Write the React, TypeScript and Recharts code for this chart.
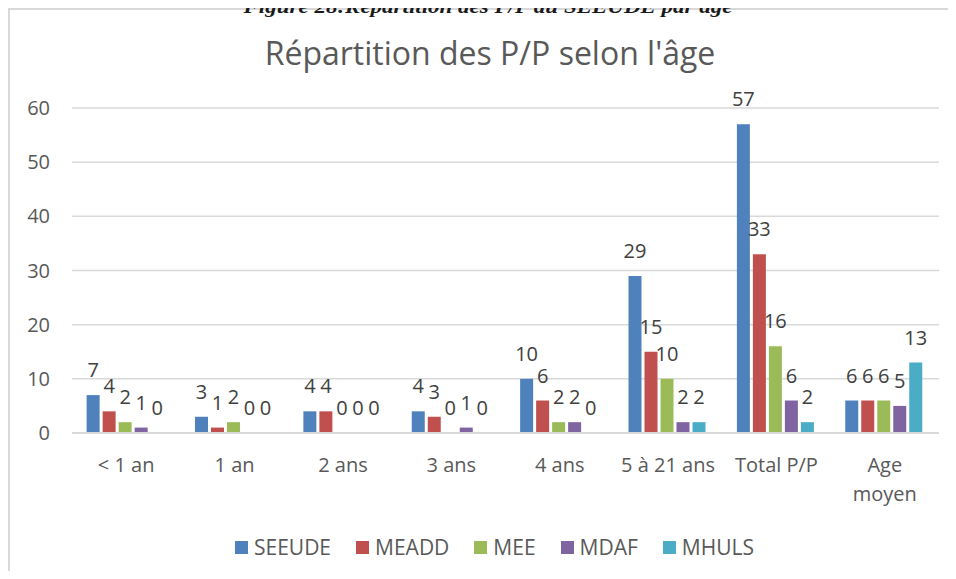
import React from 'react';
import { BarChart, Bar, XAxis, YAxis, CartesianGrid, Legend, LabelList } from 'recharts';

const categories = ['< 1 an', '1 an', '2 ans', '3 ans', '4 ans', '5 à 21 ans', 'Total P/P', 'Age\nmoyen'];
const seeude = [7, 3, 4, 4, 10, 29, 57, 6];
const meadd = [4, 1, 4, 3, 6, 15, 33, 6];
const mee = [2, 2, 0, 0, 2, 10, 16, 6];
const mdaf = [1, 0, 0, 1, 2, 2, 6, 5];
const mhuls = [0, 0, 0, 0, 0, 2, 2, 13];
const yTicks = [0, 10, 20, 30, 40, 50, 60];
const seriesNames = ['SEEUDE', 'MEADD', 'MEE', 'MDAF', 'MHULS'];
const seriesColors = ['#4F81BD', '#C0504D', '#9BBB59', '#8064A2', '#4BACC6'];
const seriesValues = [seeude, meadd, mee, mdaf, mhuls];

const title = "Répartition des P/P selon l'âge";
const caption = 'Figure 28:Répartition des P/P au SEEUDE par âge';

const data = categories.map((c, i) => {
  const row: Record<string, string | number> = { category: c };
  seriesNames.forEach((n, s) => {
    row[n] = seriesValues[s][i];
  });
  return row;
});

const FONT = '"Open Sans", sans-serif';

const XTick = (props: any) => {
  const { x, y, payload } = props;
  const lines = String(payload.value).split('\n');
  return (
    <text x={x} y={y} textAnchor="middle" fill="#595959" fontSize={20} fontFamily={FONT}>
      {lines.map((l, i) => (
        <tspan key={i} x={x} dy={i === 0 ? '0.71em' : 29}>
          {l}
        </tspan>
      ))}
    </text>
  );
};

const LegendContent = () => (
  <div
    style={{
      display: 'flex',
      justifyContent: 'center',
      alignItems: 'center',
      height: 30,
      fontFamily: FONT,
      fontSize: 21,
      color: '#595959',
      paddingLeft: 25,
    }}
  >
    {seriesNames.map((n, i) => (
      <div key={n} style={{ display: 'flex', alignItems: 'center', marginRight: i < seriesNames.length - 1 ? 25 : 0 }}>
        <div style={{ width: 13, height: 13, background: seriesColors[i], marginRight: 6 }} />
        <span>{n}</span>
      </div>
    ))}
  </div>
);

export default function App() {
  return (
    <div style={{ position: 'relative', width: 948, height: 563 }}>
      <style>{'html,body{overflow:hidden}'}</style>
      <div
        style={{
          position: 'absolute',
          left: 0,
          top: 0,
          width: 1000,
          height: 620,
          borderTop: '2px solid #d9d9d9',
          borderLeft: '2px solid #d9d9d9',
          boxSizing: 'border-box',
        }}
      />
      <svg
        width={948}
        height={40}
        style={{ position: 'absolute', left: 0, top: -8, overflow: 'visible', pointerEvents: 'none' }}
      >
        <text
          x={480}
          y={13}
          textAnchor="middle"
          fontFamily='"Liberation Serif", serif'
          fontWeight="bold"
          fontStyle="italic"
          fontSize={18}
          fill="#1a1a1a"
          textLength={489}
          lengthAdjust="spacingAndGlyphs"
        >
          {caption}
        </text>
      </svg>
      <svg
        width={948}
        height={100}
        style={{ position: 'absolute', left: 0, top: 0, pointerEvents: 'none' }}
      >
        <text x={482} y={57} textAnchor="middle" fontFamily={FONT} fontSize={32} fill="#595959">
          {title}
        </text>
      </svg>
      <div style={{ position: 'absolute', left: 0, top: 0 }}>
        <BarChart
          width={948}
          height={563}
          data={data}
          margin={{ top: 100, right: 17, bottom: 38, left: 0 }}
          barCategoryGap="13.5%"
          barGap={3}
        >
          <CartesianGrid vertical={false} stroke="#d9d9d9" strokeWidth={1.5} />
          <XAxis
            dataKey="category"
            tick={<XTick />}
            tickLine={false}
            axisLine={{ stroke: '#d9d9d9', strokeWidth: 2 }}
            tickMargin={19}
            height={70}
            interval={0}
          />
          <YAxis
            domain={[0, 60]}
            ticks={yTicks}
            width={64}
            tickLine={false}
            axisLine={false}
            tickMargin={16}
            tick={{ fill: '#595959', fontSize: 20, fontFamily: FONT }}
            interval={0}
          />
          <Legend
            verticalAlign="bottom"
            content={<LegendContent />}
            wrapperStyle={{ top: 524, left: 0, width: 948, height: 30 }}
          />
          {seriesNames.map((n, i) => (
            <Bar key={n} dataKey={n} fill={seriesColors[i]} minPointSize={0.01} isAnimationActive={false}>
              <LabelList
                dataKey={n}
                position="top"
                offset={18}
                fill="#404040"
                fontSize={20}
                fontFamily={FONT}
              />
            </Bar>
          ))}
        </BarChart>
      </div>
    </div>
  );
}
